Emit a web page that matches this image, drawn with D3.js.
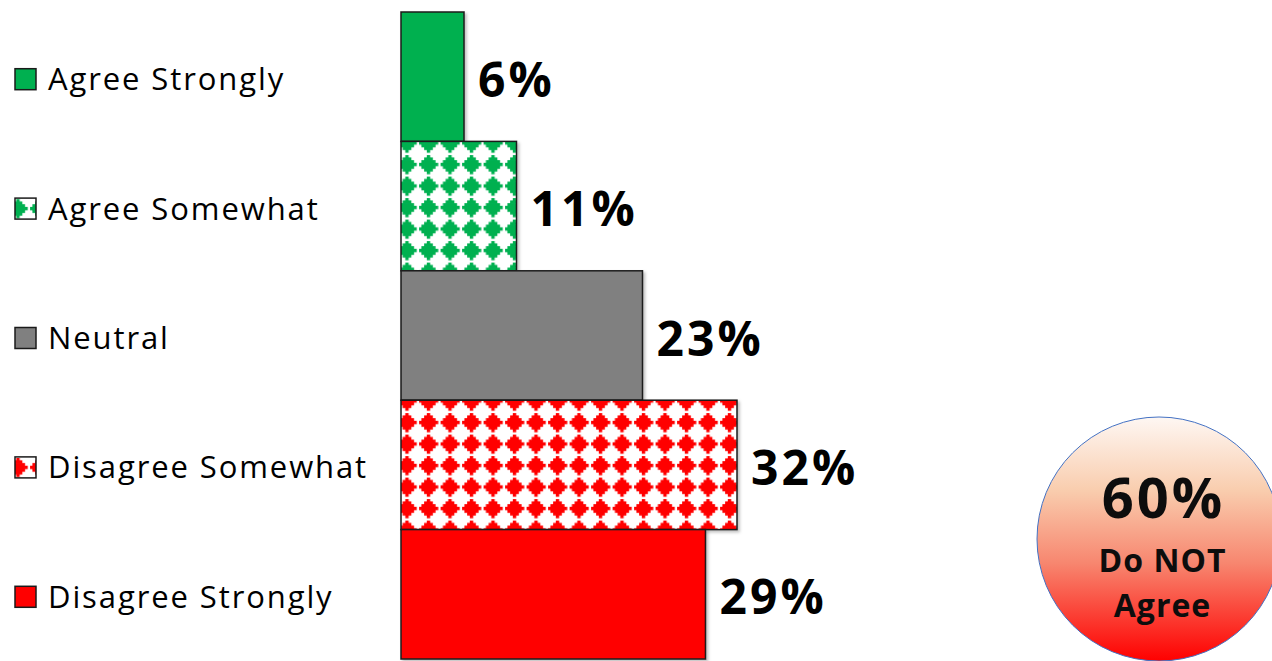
<!DOCTYPE html>
<html>
<head>
<meta charset="utf-8">
<script src="https://cdn.jsdelivr.net/npm/d3@7"></script>
<style>
  html, body { margin: 0; padding: 0; background: #fff; }
  svg { display: block; }
</style>
</head>
<body>
<svg id="chart" width="1272" height="661"></svg>
<script>
// Survey responses, in percent
const categories = ["Agree Strongly", "Agree Somewhat", "Neutral", "Disagree Somewhat", "Disagree Strongly"];
const values = [6, 11, 23, 32, 29];
const fills = ["solid", "pattern", "solid", "pattern", "solid"];
const colors = ["#00B050", "#00B050", "#808080", "#FF0000", "#FF0000"];
const valueLabels = values.map(v => v + "%");

// Callout summarising the two "disagree" answers
const calloutValue = 60;
const calloutLines = ["Do NOT", "Agree"];

const svg = d3.select("#chart");
const defs = svg.append("defs");

const FONT = "'Open Sans', 'DejaVu Sans', sans-serif";

const x = d3.scaleLinear().domain([0, 32]).range([401, 737]);
const y = d3.scaleBand().domain(categories).range([12, 659]).padding(0);

// Solid-diamond pattern tile: 8x8 bitmap, scaled up
const diamondBits = [
  "...X....",
  "..XXX...",
  ".XXXXX..",
  "XXXXXXX.",
  ".XXXXX..",
  "..XXX...",
  "...X....",
  "........"
];
const P = 21.5;
const cell = P / 8;
const bleed = 0.35;
const diamondCells = [];
diamondBits.forEach((row, j) => {
  row.split("").forEach((ch, i) => { if (ch === "X") diamondCells.push([i, j]); });
});
function makePattern(id, color, ox, oy) {
  const p = defs.append("pattern")
    .attr("id", id)
    .attr("patternUnits", "userSpaceOnUse")
    .attr("x", ox - 3.5 * cell).attr("y", oy - 3.5 * cell)
    .attr("width", P).attr("height", P);
  p.append("rect").attr("width", P).attr("height", P).attr("fill", "#fff");
  p.selectAll("rect.c").data(diamondCells).join("rect")
    .attr("class", "c")
    .attr("x", d => d[0] * cell - bleed).attr("y", d => d[1] * cell - bleed)
    .attr("width", cell + 2 * bleed).attr("height", cell + 2 * bleed)
    .attr("fill", color);
}
makePattern("pat-green", "#00B050", 407, 143);
makePattern("pat-red", "#FF0000", 407, 143);

// Soft shadow behind bars
const shadow = defs.append("filter").attr("id", "shadow")
  .attr("x", "-5%").attr("y", "-5%").attr("width", "115%").attr("height", "115%");
shadow.append("feDropShadow")
  .attr("dx", 2).attr("dy", 2).attr("stdDeviation", 1.5)
  .attr("flood-color", "#000").attr("flood-opacity", 0.25);

function fillFor(i) {
  if (fills[i] === "pattern") return colors[i] === "#00B050" ? "url(#pat-green)" : "url(#pat-red)";
  return colors[i];
}

// Bars
svg.append("g").selectAll("rect").data(categories).join("rect")
  .attr("x", x(0))
  .attr("y", d => y(d))
  .attr("width", (d, i) => x(values[i]) - x(0))
  .attr("height", y.bandwidth())
  .attr("fill", (d, i) => fillFor(i))
  .attr("stroke", "#1a1a1a")
  .attr("stroke-width", 1.5)
  .attr("filter", "url(#shadow)");

// Value labels
svg.append("g").selectAll("text").data(categories).join("text")
  .attr("x", (d, i) => x(values[i]) + 14)
  .attr("y", d => y(d) + y.bandwidth() / 2 + 20)
  .attr("font-family", FONT)
  .attr("font-weight", 700)
  .attr("font-size", 48)
  .attr("letter-spacing", 3)
  .attr("fill", "#000")
  .text((d, i) => valueLabels[i]);

// Legend
const legend = svg.append("g");
const MS = 21;
categories.forEach((c, i) => {
  const cy = y(c) + y.bandwidth() / 2;
  const mx = 15, my = cy - 8;
  let fill = colors[i];
  if (fills[i] === "pattern") {
    const id = "leg-pat-" + i;
    makePattern(id, colors[i], mx + 3, my + MS / 2);
    fill = "url(#" + id + ")";
  }
  legend.append("rect")
    .attr("x", mx).attr("y", my)
    .attr("width", MS).attr("height", MS)
    .attr("fill", fill)
    .attr("stroke", "#1a1a1a").attr("stroke-width", 1.5);
  legend.append("text")
    .attr("x", 48).attr("y", cy + 13.5)
    .attr("font-family", FONT)
    .attr("font-size", 31)
    .attr("letter-spacing", 1.9)
    .attr("fill", "#000")
    .text(c);
});

// Callout circle
const grad = defs.append("linearGradient").attr("id", "calloutGrad")
  .attr("x1", 0).attr("y1", 0).attr("x2", 0).attr("y2", 1);
[[0, "#FEF7F3"], [0.3, "#F9CDAE"], [0.6, "#F7866F"], [1, "#FF0000"]].forEach(s => {
  grad.append("stop").attr("offset", s[0]).attr("stop-color", s[1]);
});
const cx = 1159, ccy = 539, r = 122;
const tx = 1162;
svg.append("circle")
  .attr("cx", cx).attr("cy", ccy).attr("r", r)
  .attr("fill", "url(#calloutGrad)")
  .attr("stroke", "#4472C4").attr("stroke-width", 1);
svg.append("text")
  .attr("x", tx + 1.5).attr("y", 518)
  .attr("text-anchor", "middle")
  .attr("font-family", FONT).attr("font-weight", 700)
  .attr("font-size", 56).attr("letter-spacing", 3)
  .attr("fill", "#0d0d0d")
  .text(calloutValue + "%");
calloutLines.forEach((t, i) => {
  svg.append("text")
    .attr("x", tx + 0.5).attr("y", 572 + i * 45)
    .attr("text-anchor", "middle")
    .attr("font-family", FONT).attr("font-weight", 700)
    .attr("font-size", 32).attr("letter-spacing", 1)
    .attr("fill", "#0d0d0d")
    .text(t);
});
</script>
</body>
</html>
